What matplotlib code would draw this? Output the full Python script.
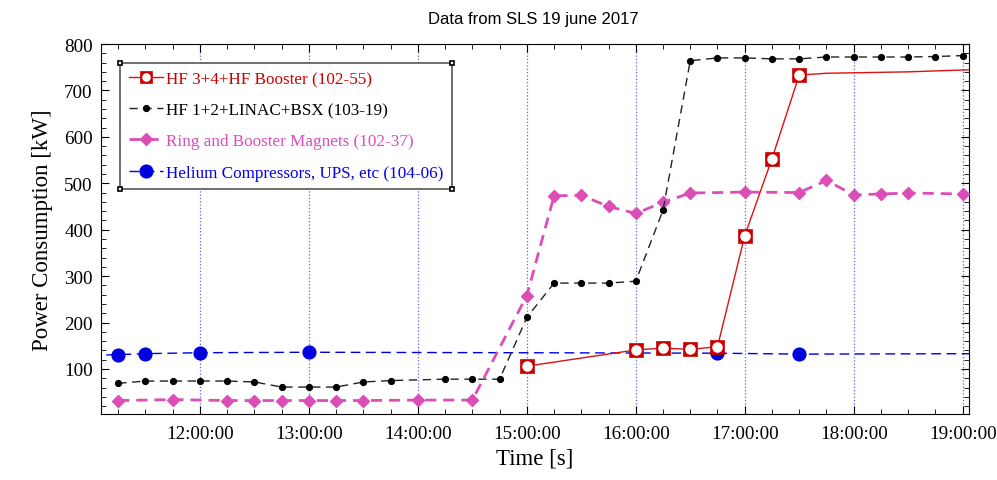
import matplotlib
matplotlib.use("Agg")
import matplotlib.pyplot as plt
import matplotlib.dates as mdates
from matplotlib.legend_handler import HandlerTuple
import pandas as pd

plt.rcParams['font.family'] = ['Liberation Serif', 'DejaVu Serif']

DAY = '2017-06-19 '

# HF 3+4+HF Booster (102-55): markers only up to 17:30, line goes on
red_t = ['15:00', '16:00', '16:15', '16:30', '16:45', '17:00', '17:15', '17:30',
         '17:45', '18:00', '18:15', '18:30', '18:45', '19:00', '19:15']
red_v = [106, 141, 145, 142, 148, 387, 553, 733,
         737, 738, 739, 740, 742, 744, 745]

# HF 1+2+LINAC+BSX (103-19)
black_t = ['11:15', '11:30', '11:45', '12:00', '12:15', '12:30', '12:45', '13:00',
           '13:15', '13:30', '13:45', '14:15', '14:30', '14:45', '15:00', '15:15',
           '15:30', '15:45', '16:00', '16:15', '16:30', '16:45', '17:00', '17:15',
           '17:30', '17:45', '18:00', '18:15', '18:30', '18:45', '19:00', '19:15']
black_v = [69, 74, 74, 74, 74, 72, 61, 61,
           61, 72, 75, 78, 78, 78, 211, 285,
           285, 285, 289, 442, 764, 770, 770, 768,
           768, 772, 772, 772, 772, 773, 775, 775]

# Ring and Booster Magnets (102-37)
mag_t = ['11:15', '11:45', '12:15', '12:30', '12:45', '13:00', '13:15', '13:30',
         '14:00', '14:30', '15:00', '15:15', '15:30', '15:45', '16:00', '16:15',
         '16:30', '17:00', '17:30', '17:45', '18:00', '18:15', '18:30', '19:00']
mag_v = [32, 34, 32, 32, 32, 32, 32, 32,
         33, 33, 258, 473, 474, 450, 435, 459,
         479, 481, 480, 506, 475, 477, 479, 477]

# Helium Compressors, UPS, etc (104-06)
blue_t = ['11:00', '11:15', '11:30', '12:00', '13:00', '16:45', '17:30', '19:15']
blue_v = [129, 131, 133, 135, 136, 134, 132, 133]


def tt(lst):
    return mdates.date2num(pd.to_datetime([DAY + s for s in lst]))


c_red = '#cc0000'
c_mag = '#dd4db8'
c_blue = '#0000dd'

fig = plt.figure(figsize=(9.97, 4.81), dpi=100)
ax = fig.add_axes([101/997, 1 - 415/481, 868/997, 370/481])

ax.grid(axis='x', which='major', color='#6060ff', linestyle=':', linewidth=0.9)

rx, bx, mx, ux = tt(red_t), tt(black_t), tt(mag_t), tt(blue_t)

l_blue, = ax.plot(ux, blue_v, color=c_blue, lw=1.0, dashes=(7, 4), marker='o', ms=9.2,
                  mec=c_blue, mfc=c_blue, zorder=3)
l_mag, = ax.plot(mx, mag_v, color=c_mag, lw=2.0, dashes=(4, 2.5), marker='D', ms=6.5,
                 mec=c_mag, mfc=c_mag, zorder=4)
l_black, = ax.plot(bx, black_v, color='#222222', lw=1.0, dashes=(6, 4), marker='o', ms=4.2,
                   mec='black', mfc='black', zorder=5)
ax.plot(rx[7:], red_v[7:], color='#dd1111', lw=1.0, zorder=5)
ax.plot(rx[:8], red_v[:8], color='#dd1111', lw=1.0, marker='s', ms=9.5,
        mec=c_red, mfc=c_red, mew=0.5, zorder=6)
ax.plot(rx[:8], red_v[:8], ls='none', marker='o', ms=7.6,
        mec='white', mfc='white', mew=0, zorder=7)

# smaller copies for the legend handle of the red series
h_red = plt.Line2D([], [], color='#dd1111', lw=1.0, marker='s', ms=8, mec=c_red, mfc=c_red, mew=0.5)
h_hole = plt.Line2D([], [], ls='none', marker='o', ms=6.2, mec='white', mfc='white', mew=0)

ax.set_xlim(tt(['11:05:30'])[0], tt(['19:03:30'])[0])
ax.set_ylim(3, 800)
ax.set_yticks(range(100, 801, 100))
ax.set_yticks(range(20, 801, 20), minor=True)
ax.xaxis.set_major_locator(mdates.HourLocator(byhour=range(12, 20)))
ax.xaxis.set_minor_locator(mdates.MinuteLocator(byminute=[0, 15, 30, 45]))
ax.xaxis.set_major_formatter(mdates.DateFormatter('%H:%M:%S'))
ax.tick_params(which='both', direction='in', top=True, right=True, labelsize=13.8)
ax.tick_params(which='major', length=6)
ax.tick_params(which='minor', length=3.5)
ax.tick_params(axis='x', pad=8)
ax.tick_params(axis='y', pad=6)

ax.set_xlabel('Time [s]', fontsize=16.5, labelpad=4)
ax.set_ylabel('Power Consumption [kW]', fontsize=16.5, labelpad=8)
fig.text(0.5345, 0.96, 'Data from SLS 19 june 2017', ha='center', va='center',
         fontsize=12, family=['Liberation Sans', 'DejaVu Sans'])

leg = ax.legend([(h_red, h_hole), l_black, l_mag, l_blue],
                ['HF 3+4+HF Booster (102-55)', 'HF 1+2+LINAC+BSX (103-19)',
                 'Ring and Booster Magnets (102-37)', 'Helium Compressors, UPS, etc (104-06)'],
                handler_map={tuple: HandlerTuple(ndivide=1, pad=0)},
                loc='upper left', bbox_to_anchor=(0.022, 0.949), borderaxespad=0,
                prop={'size': 12.3}, fancybox=False, edgecolor='#555555',
                framealpha=1, labelspacing=0.88, handlelength=2.0,
                handletextpad=0.2, borderpad=0.5)
leg.get_frame().set_linewidth(1.2)
for txt, col in zip(leg.get_texts(), [c_red, 'black', c_mag, '#0000ee']):
    txt.set_color(col)

fig.canvas.draw()
bb = leg.get_window_extent().transformed(fig.transFigure.inverted())
for cx in (bb.x0, bb.x1):
    for cy in (bb.y0, bb.y1):
        fig.lines.append(plt.Line2D([cx], [cy], transform=fig.transFigure,
                                    marker='s', ms=3.5, mfc='white', mec='black', mew=1.2))

fig.savefig('out.png', dpi=100)
